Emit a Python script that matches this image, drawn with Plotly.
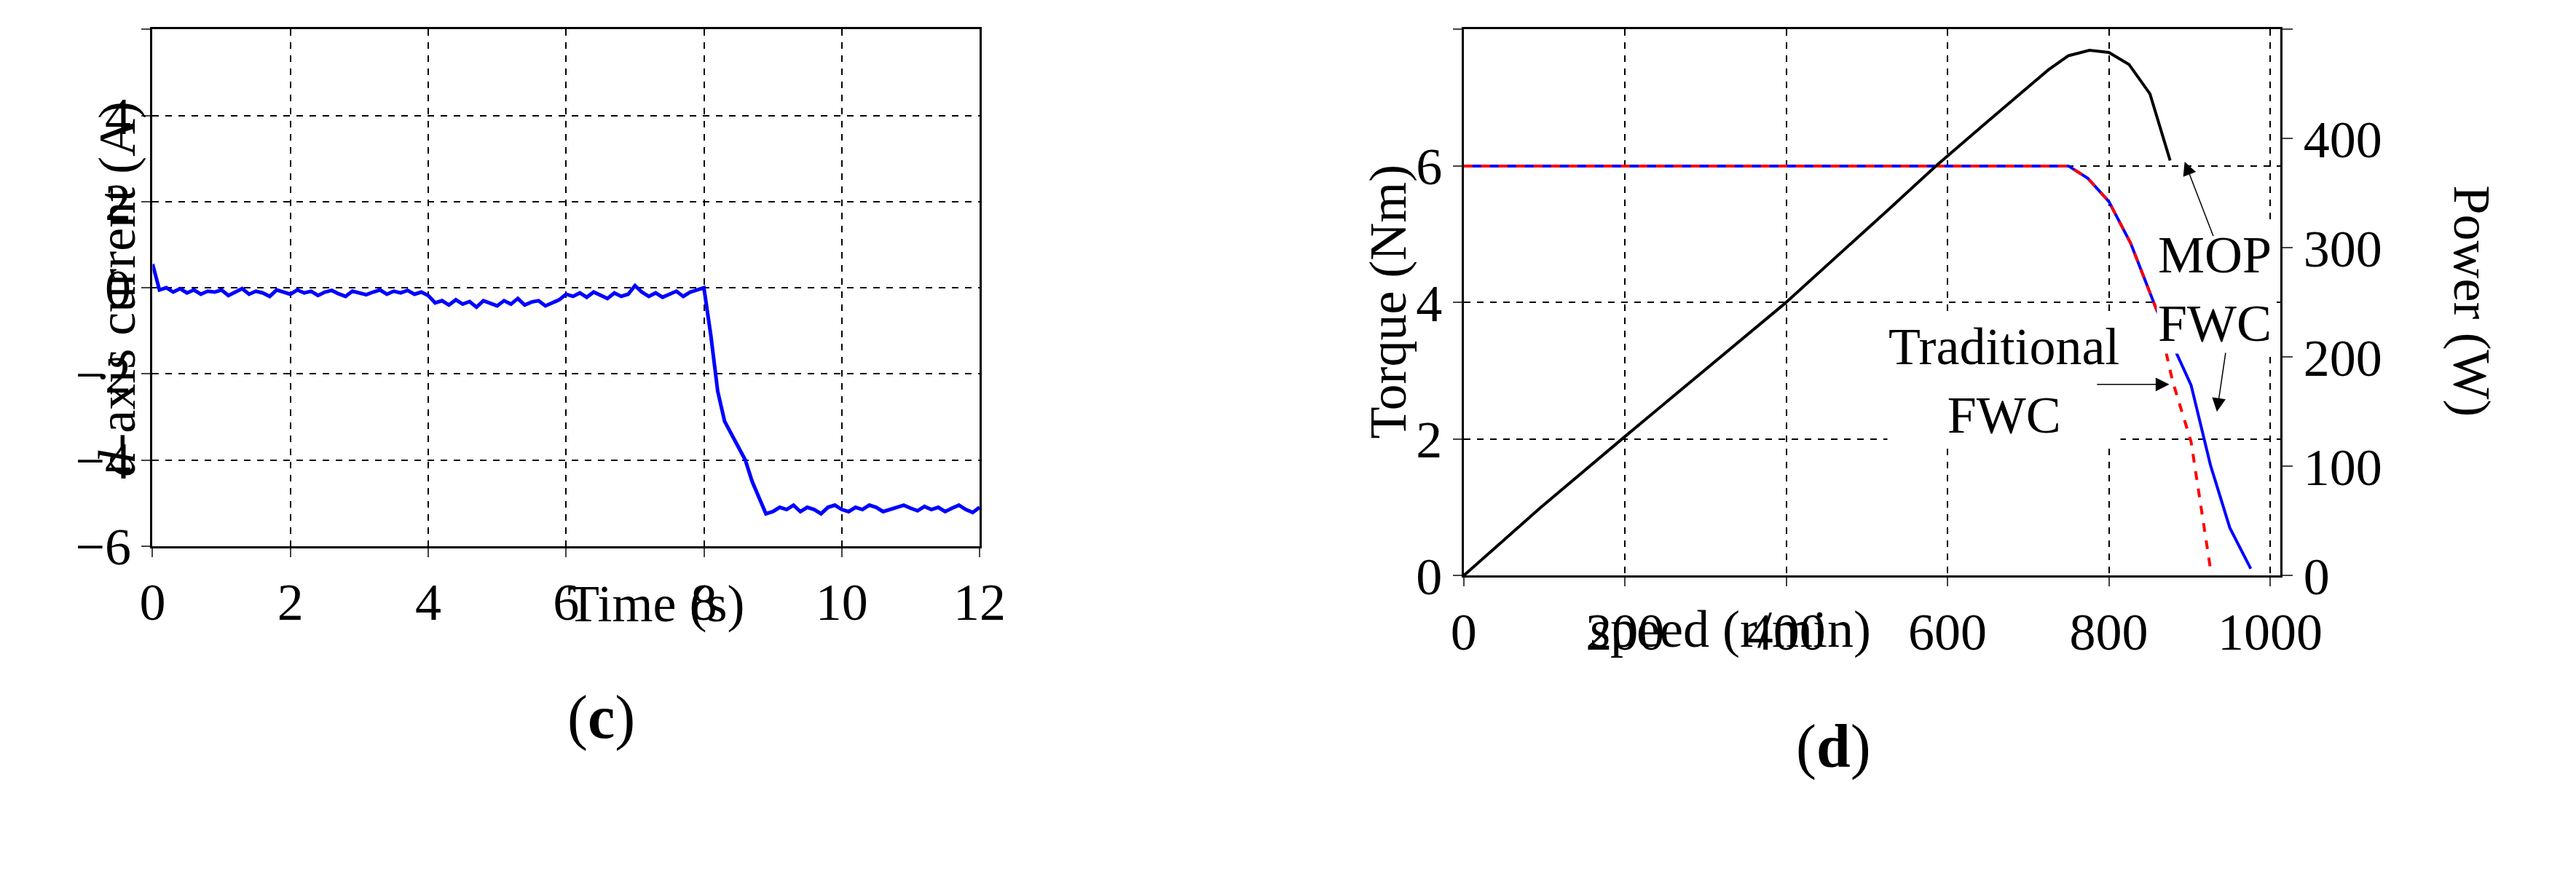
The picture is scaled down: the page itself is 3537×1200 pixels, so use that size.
import plotly.graph_objects as go

# (c) d-axis current vs time
time_s = [i / 10 for i in range(121)]
id_current = [
    0.55, -0.05, 0.0, -0.1, -0.02, -0.12, -0.05, -0.15, -0.08, -0.1,
    -0.05, -0.18, -0.1, -0.02, -0.15, -0.08, -0.12, -0.2, -0.05, -0.1,
    -0.15, -0.05, -0.12, -0.08, -0.18, -0.1, -0.06, -0.14, -0.2, -0.08,
    -0.12, -0.16, -0.1, -0.05, -0.15, -0.08, -0.12, -0.06, -0.15, -0.1,
    -0.18, -0.35, -0.3, -0.4, -0.28, -0.38, -0.32, -0.45, -0.3, -0.36,
    -0.42, -0.3, -0.38, -0.25, -0.4, -0.33, -0.3, -0.42, -0.35, -0.28,
    -0.15, -0.2, -0.12, -0.22, -0.1, -0.18, -0.25, -0.12, -0.2, -0.15,
    0.05, -0.1, -0.2, -0.12, -0.22, -0.15, -0.08, -0.2, -0.1, -0.05,
    0.0, -1.1, -2.4, -3.1, -3.4, -3.7, -4.0, -4.5, -4.9, -5.25,
    -5.2, -5.1, -5.15, -5.05, -5.2, -5.1, -5.15, -5.25, -5.1, -5.05,
    -5.15, -5.2, -5.1, -5.15, -5.05, -5.1, -5.2, -5.15, -5.1, -5.05,
    -5.12, -5.18, -5.08, -5.15, -5.1, -5.2, -5.12, -5.05, -5.15, -5.22, -5.1,
]

# (d) torque and power vs speed
speed_common = [0, 750, 774, 800, 827, 847, 859]
torque_common = [6, 6, 5.82, 5.48, 4.87, 4.28, 3.9]
speed_trad = speed_common + [879, 902, 926]
torque_trad = torque_common + [2.85, 1.96, 0.1]
speed_mop = speed_common + [902, 926, 950, 976]
torque_mop = torque_common + [2.79, 1.62, 0.7, 0.1]
speed_pow = [0, 95, 201, 398, 528, 587, 650, 725, 750, 776, 800, 825, 851, 876]
power_w = [0, 62, 128, 249, 336, 376, 416, 463, 476, 481, 479, 468, 441, 380]

FONT = "Liberation Serif"
FS = 72
fig = go.Figure()
fig.add_trace(go.Scatter(x=time_s, y=id_current, mode="lines",
                         line=dict(color="#0000ff", width=5), xaxis="x", yaxis="y"))
fig.add_trace(go.Scatter(x=speed_pow, y=power_w, mode="lines",
                         line=dict(color="black", width=4), xaxis="x2", yaxis="y3"))
fig.add_trace(go.Scatter(x=speed_mop, y=torque_mop, mode="lines",
                         line=dict(color="#0000ff", width=4), xaxis="x2", yaxis="y2"))
fig.add_trace(go.Scatter(x=speed_trad, y=torque_trad, mode="lines",
                         line=dict(color="#ff0000", width=4, dash="dash"), xaxis="x2", yaxis="y2"))

grid = dict(showgrid=True, gridcolor="black", griddash="dash", gridwidth=2,
            zeroline=False, showline=True, linecolor="black", linewidth=3,
            mirror=True, ticks="outside", ticklen=12, tickwidth=2,
            tickfont=dict(family=FONT, size=FS, color="black"))

fig.update_layout(
    width=3537, height=1200, margin=dict(l=0, r=0, t=0, b=0),
    plot_bgcolor="white", paper_bgcolor="white", showlegend=False,
    font=dict(family=FONT, color="black"),
    xaxis=dict(grid, domain=[0.053, 0.381], range=[0, 12], dtick=2, anchor="y"),
    yaxis=dict(grid, domain=[0.36, 0.972], range=[-6, 6], anchor="x",
               tickvals=[-6, -4, -2, 0, 2, 4, 6],
               ticktext=["\u22126", "\u22124", "\u22122", "0", "2", "4", "6"]),
    xaxis2=dict(grid, domain=[0.573, 0.897], range=[0, 1013], dtick=200, anchor="y2"),
    yaxis2=dict(grid, domain=[0.325, 0.972], range=[0, 8], dtick=2, anchor="x2"),
    yaxis3=dict(range=[0, 500], dtick=100, overlaying="y2", side="right", anchor="x2",
                showgrid=False, zeroline=False, showline=True, linecolor="black",
                linewidth=3, ticks="outside", ticklen=14, tickwidth=2,
                tickfont=dict(family=FONT, size=FS, color="black")),
)

texts = [
    dict(x=0.027, y=0.665, text="<i>d</i>-axis current (A)", textangle=-90),
    dict(x=0.217, y=0.255, text="Time (s)"),
    dict(x=0.217, y=0.115, text="(<b>c</b>)", size=84),
    dict(x=0.543, y=0.65, text="Torque (Nm)", textangle=-90),
    dict(x=0.985, y=0.65, text="Power (W)", textangle=90),
    dict(x=0.735, y=0.225, text="speed (r/min)"),
    dict(x=0.735, y=0.08, text="(<b>d</b>)", size=84),
]
for t in texts:
    fig.add_annotation(x=t["x"], y=t["y"], xref="paper", yref="paper", text=t["text"],
                       showarrow=False, textangle=t.get("textangle", 0),
                       font=dict(family=FONT, size=t.get("size", FS), color="black"))

fig.add_annotation(x=931, y=262, xref="x2", yref="y3", text="MOP<br>FWC", showarrow=False,
                   font=dict(family=FONT, size=FS, color="black"), bgcolor="white")
fig.add_annotation(x=670, y=178, xref="x2", yref="y3", text="Traditional<br>FWC", showarrow=False,
                   font=dict(family=FONT, size=FS, color="black"), bgcolor="white")
arrows = [(930, 310, 894, 379), (945, 205, 934, 150), (784, 175, 875, 175)]
for ax, ay, hx, hy in arrows:
    fig.add_annotation(x=hx, y=hy, ax=ax, ay=ay, xref="x2", yref="y3", axref="x2", ayref="y3",
                       text="", showarrow=True, arrowhead=2, arrowsize=2.5, arrowwidth=1.5,
                       arrowcolor="black")

fig.write_html("out.html")
